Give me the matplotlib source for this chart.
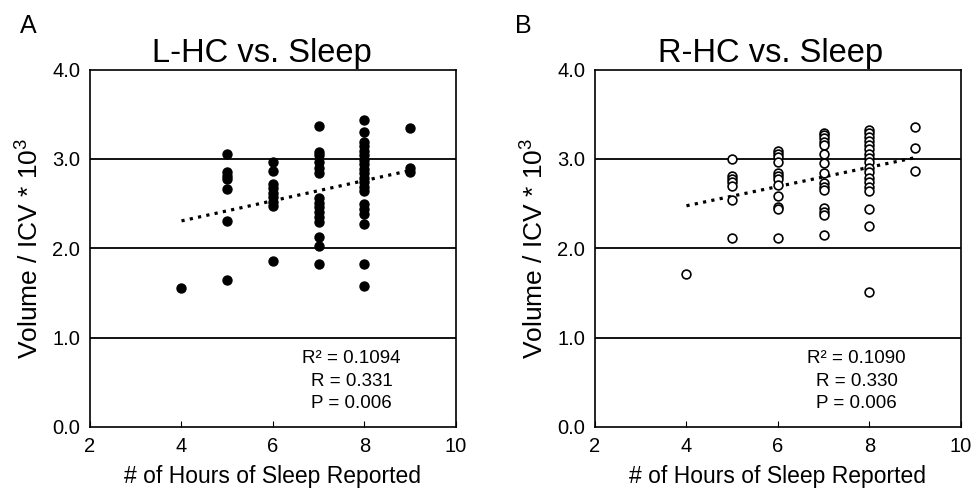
"""plot.py -- hippocampal volume vs reported sleep hours, left and right HC."""
import numpy as np
import matplotlib
matplotlib.use("Agg")
import matplotlib.pyplot as plt

plt.rcParams["font.family"] = ["Liberation Sans", "DejaVu Sans"]
plt.rcParams["mathtext.fontset"] = "custom"
plt.rcParams["mathtext.rm"] = "Liberation Sans"
plt.rcParams["mathtext.it"] = "Liberation Sans:italic"

# ----------------------------------------------------------------- data
# volume / ICV * 10^3 per reported sleep hour
HOURS = [4, 5, 6, 7, 8, 9]

L_HC = {
    4: [1.55],
    5: [3.05, 2.85, 2.81, 2.78, 2.66, 2.30, 1.64],
    6: [2.97, 2.86, 2.72, 2.67, 2.62, 2.57, 2.52, 2.47, 1.86],
    7: [3.37, 3.08, 3.04, 2.97, 2.90, 2.84, 2.56, 2.51, 2.46, 2.41, 2.35,
        2.29, 2.13, 2.02, 1.82],
    8: [3.44, 3.30, 3.19, 3.14, 3.09, 3.04, 2.99, 2.94, 2.89, 2.84, 2.79,
        2.74, 2.69, 2.64, 2.50, 2.44, 2.38, 2.27, 1.82, 1.58],
    9: [3.34, 2.90, 2.85],
}
R_HC = {
    4: [1.71],
    5: [3.00, 2.81, 2.77, 2.74, 2.70, 2.54, 2.11],
    6: [3.09, 3.05, 3.02, 2.97, 2.84, 2.81, 2.77, 2.71, 2.58, 2.46, 2.44, 2.12],
    7: [3.29, 3.27, 3.23, 3.19, 3.15, 3.06, 2.95, 2.84, 2.73, 2.69, 2.65,
        2.45, 2.41, 2.37, 2.15],
    8: [3.32, 3.29, 3.25, 3.20, 3.16, 3.11, 3.06, 3.01, 2.96, 2.90, 2.85,
        2.79, 2.74, 2.69, 2.64, 2.44, 2.25, 1.51],
    9: [3.36, 3.12, 2.86],
}
TITLES = ["L-HC vs. Sleep", "R-HC vs. Sleep"]
PANELS = ["A", "B"]
STATS = ["R\u00b2 = 0.1094\nR = 0.331\nP = 0.006",
         "R\u00b2 = 0.1090\nR = 0.330\nP = 0.006"]
XTICKS = [2, 4, 6, 8, 10]
YTICKS = [0.0, 1.0, 2.0, 3.0, 4.0]


def _flatten(d):
    xs, ys = [], []
    for h in HOURS:
        xs += [h] * len(d[h])
        ys += d[h]
    return np.array(xs, float), np.array(ys, float)


def panel(ax, data, title, stats, filled, title_x):
    x, y = _flatten(data)
    for v in YTICKS[1:-1]:
        ax.axhline(v, color="black", lw=1.3, zorder=1)
    if filled:
        ax.scatter(x, y, s=42, color="black", zorder=3)
    else:
        ax.scatter(x, y, s=40, facecolors="white", edgecolors="black",
                   linewidths=1.2, zorder=3)
    # least-squares trend over the observed hour range
    b, a = np.polyfit(x, y, 1)
    xx = np.array([x.min(), x.max()])
    ax.plot(xx, a + b * xx, ls=":", lw=2.3, color="black", zorder=2)

    ax.set_xlim(2, 10)
    ax.set_ylim(0, 4)
    ax.set_xticks(XTICKS)
    ax.set_yticks(YTICKS)
    ax.set_yticklabels([f"{v:.1f}" for v in YTICKS])
    ax.tick_params(direction="in", length=4, labelsize=14.5, pad=7)
    ax.tick_params(axis="y", length=0)
    for s in ax.spines.values():
        s.set_linewidth(1.2)
    ax.set_title(title, fontsize=23.5, pad=5, x=title_x)
    ax.set_xlabel("# of Hours of Sleep Reported", fontsize=16.5, labelpad=7)
    ax.set_ylabel("Volume / ICV * 10$^3$", fontsize=19, labelpad=6)
    ax.text(0.715, 0.214, stats, transform=ax.transAxes, ha="center",
            va="top", fontsize=13.5, multialignment="center", linespacing=1.4)


fig = plt.figure(figsize=(9.76, 5.0), dpi=100)
ax_l = fig.add_axes([0.0922, 0.146, 0.375, 0.715])
ax_r = fig.add_axes([0.6096, 0.146, 0.375, 0.715])

panel(ax_l, L_HC, TITLES[0], STATS[0], filled=True, title_x=0.47)
panel(ax_r, R_HC, TITLES[1], STATS[1], filled=False, title_x=0.48)

fig.text(20 / 976, 1 - 26 / 500, PANELS[0], fontsize=18, va="center", ha="left")
fig.text(515 / 976, 1 - 26 / 500, PANELS[1], fontsize=18, va="center", ha="left")

fig.savefig("out.png", dpi=100)
